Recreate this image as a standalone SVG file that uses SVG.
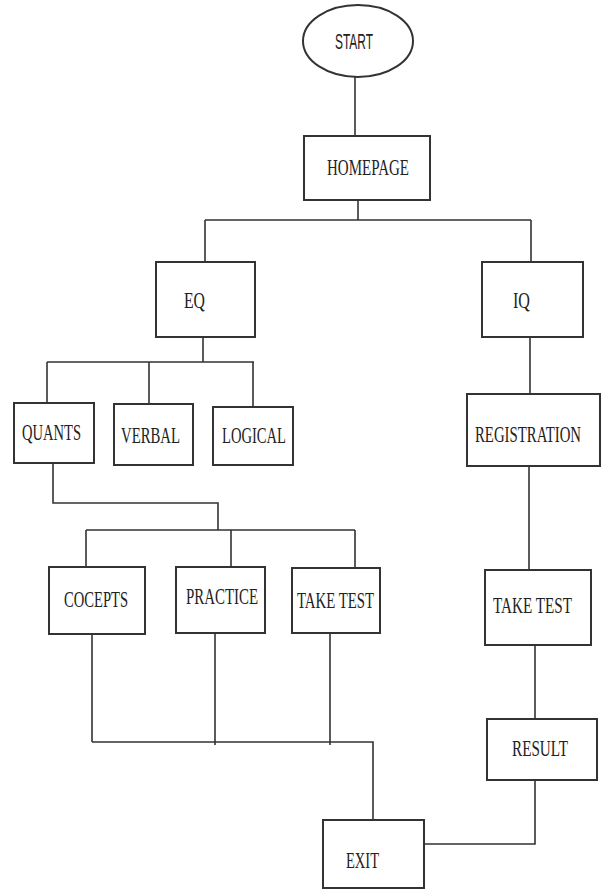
<svg xmlns="http://www.w3.org/2000/svg" width="605" height="890" viewBox="0 0 605 890">
<style>
.box{fill:#fff;stroke:#333;stroke-width:2}
.ln{fill:none;stroke:#333;stroke-width:1.6}
text{font-family:"Liberation Serif","Times New Roman",serif;font-size:24px;fill:#222}
.sans{font-family:"Liberation Sans",Arial,sans-serif;font-size:22px}
</style>
<rect width="605" height="890" fill="#fff"/>
<g id="connectors">
<path class="ln" d="M355,77V136"/>
<path class="ln" d="M358,200V220M205,220H531M205,220V262M531,220V262"/>
<path class="ln" d="M203,337V362M47,362H254M47,362V403M149,362V404M253,362V407"/>
<path class="ln" d="M530,337V394"/>
<path class="ln" d="M53,463V503H218V530M86,530H355M86,530V567M231,530V567M355,530V568"/>
<path class="ln" d="M529,466V570"/>
<path class="ln" d="M535,645V719"/>
<path class="ln" d="M92,634V742M215,633V745M330,633V745M92,742H373V820"/>
<path class="ln" d="M535,780V844H424"/>
</g>
<g id="start"><ellipse class="box" cx="358" cy="41" rx="55" ry="36"/><text class="sans" x="335" y="49" textLength="38" lengthAdjust="spacingAndGlyphs">START</text></g>
<g id="homepage"><rect class="box" x="304" y="136" width="126" height="64"/><text x="327" y="175" textLength="82" lengthAdjust="spacingAndGlyphs">HOMEPAGE</text></g>
<g id="eq"><rect class="box" x="156" y="262" width="99" height="75"/><text x="184" y="308" textLength="21" lengthAdjust="spacingAndGlyphs">EQ</text></g>
<g id="iq"><rect class="box" x="482" y="262" width="101" height="75"/><text x="513" y="308" textLength="17" lengthAdjust="spacingAndGlyphs">IQ</text></g>
<g id="quants"><rect class="box" x="14" y="403" width="80" height="60"/><text x="22" y="440" textLength="59" lengthAdjust="spacingAndGlyphs">QUANTS</text></g>
<g id="verbal"><rect class="box" x="114" y="404" width="79" height="61"/><text x="121" y="443" textLength="59" lengthAdjust="spacingAndGlyphs">VERBAL</text></g>
<g id="logical"><rect class="box" x="213" y="407" width="80" height="58"/><text x="222" y="443" textLength="64" lengthAdjust="spacingAndGlyphs">LOGICAL</text></g>
<g id="registration"><rect class="box" x="467" y="394" width="133" height="72"/><text x="475" y="442" textLength="106" lengthAdjust="spacingAndGlyphs">REGISTRATION</text></g>
<g id="cocepts"><rect class="box" x="49" y="567" width="96" height="67"/><text x="64" y="607" textLength="64" lengthAdjust="spacingAndGlyphs">COCEPTS</text></g>
<g id="practice"><rect class="box" x="176" y="567" width="89" height="66"/><text x="186" y="604" textLength="72" lengthAdjust="spacingAndGlyphs">PRACTICE</text></g>
<g id="taketest1"><rect class="box" x="292" y="568" width="88" height="65"/><text x="297" y="608" textLength="77" lengthAdjust="spacingAndGlyphs">TAKE TEST</text></g>
<g id="taketest2"><rect class="box" x="485" y="570" width="106" height="75"/><text x="493" y="613" textLength="79" lengthAdjust="spacingAndGlyphs">TAKE TEST</text></g>
<g id="result"><rect class="box" x="487" y="719" width="110" height="61"/><text x="512" y="756" textLength="56" lengthAdjust="spacingAndGlyphs">RESULT</text></g>
<g id="exit"><rect class="box" x="323" y="820" width="101" height="68"/><text x="346" y="868" textLength="33" lengthAdjust="spacingAndGlyphs">EXIT</text></g>
</svg>
